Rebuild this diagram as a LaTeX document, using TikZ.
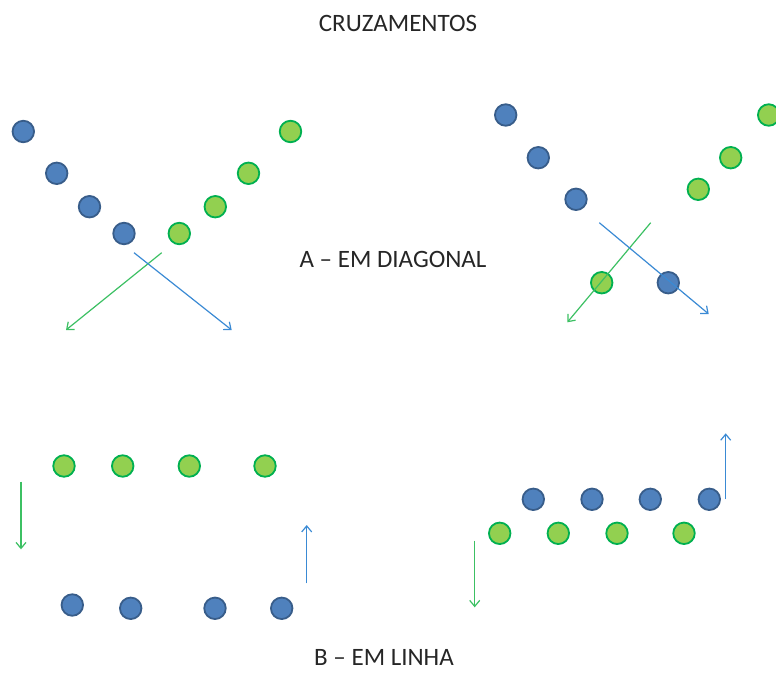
\documentclass[tikz,border=0pt]{standalone}
\usepackage{fontspec}
\setmainfont{Carlito}
\usetikzlibrary{arrows.meta}
\definecolor{bfill}{HTML}{4F81BD}
\definecolor{bdraw}{HTML}{385D8A}
\definecolor{gfill}{HTML}{92D050}
\definecolor{gdraw}{HTML}{00B050}
\definecolor{barrow}{HTML}{3A8AD4}
\definecolor{garrow}{HTML}{3CC063}
\tikzset{
  bdot/.style={circle,fill=bfill,draw=bdraw,line width=1.8pt,minimum size=21.5pt,inner sep=0pt},
  gdot/.style={circle,fill=gfill,draw=gdraw,line width=1.8pt,minimum size=21.5pt,inner sep=0pt},
  barr/.style={draw=barrow,line width=1.2pt,-{Straight Barb[length=6pt,width=10pt,line width=1.2pt]}},
  garr/.style={draw=garrow,line width=1.2pt,-{Straight Barb[length=6pt,width=10pt,line width=1.2pt]}},
  lbl/.style={font=\fontsize{25}{29}\selectfont,text=black!85,inner sep=0pt,text depth=0pt,anchor=base}
}
\begin{document}
\begin{tikzpicture}[x=1pt,y=-1pt]
\useasboundingbox (0,0) rectangle (776,673);
% titles
\node[lbl] (title) at (398,31) {CRUZAMENTOS};
\node[lbl] (la) at (393,267) {A – EM DIAGONAL};
\node[lbl] (lb) at (384,665) {B – EM LINHA};
% top-left
\node[bdot] (b1) at (23.3,131.5) {};
\node[bdot] (b2) at (56.7,173.3) {};
\node[bdot] (b3) at (89.5,206.7) {};
\node[bdot] (b4) at (124,233.5) {};
\node[gdot] (g1) at (290.5,131.5) {};
\node[gdot] (g2) at (248.5,173.3) {};
\node[gdot] (g3) at (215.3,206.7) {};
\node[gdot] (g4) at (179.3,233.5) {};
\coordinate (ga1) at (161.7,252.7);
\coordinate (ga2) at (66,330);
\coordinate (ba1) at (134,252.7);
\coordinate (ba2) at (231.7,330);
\draw[garr] (ga1) -- (ga2);
\draw[barr] (ba1) -- (ba2);
% top-right
\node[bdot] (rb1) at (505.7,115) {};
\node[bdot] (rb2) at (538.3,157.7) {};
\node[bdot] (rb3) at (576,199.3) {};
\node[bdot] (rb4) at (668.3,282.7) {};
\node[gdot] (rg1) at (768.7,115) {};
\node[gdot] (rg2) at (730.7,157.7) {};
\node[gdot] (rg3) at (698.3,189.3) {};
\node[gdot] (rg4) at (601.7,282.7) {};
\coordinate (rga1) at (650.7,222.7);
\coordinate (rga2) at (567.3,322.3);
\coordinate (rba1) at (599.3,222.7);
\coordinate (rba2) at (708.7,314);
\draw[garr] (rga1) -- (rga2);
\draw[barr] (rba1) -- (rba2);
% bottom-left
\node[gdot] (lg1) at (64,466) {};
\node[gdot] (lg2) at (122.7,466) {};
\node[gdot] (lg3) at (189.3,466) {};
\node[gdot] (lg4) at (265,466) {};
\node[bdot] (lb1) at (72.3,605) {};
\node[bdot] (lb2) at (130.7,608.3) {};
\node[bdot] (lb3) at (215,608.3) {};
\node[bdot] (lb4) at (281.7,608.3) {};
\coordinate (lga1) at (21,481.7);
\coordinate (lga2) at (21,549.3);
\coordinate (lba1) at (306.7,583.3);
\coordinate (lba2) at (306.7,525);
\draw[garr] (lga1) -- (lga2);
\draw[barr] (lba1) -- (lba2);
% bottom-right
\node[bdot] (mb1) at (533.3,499.3) {};
\node[bdot] (mb2) at (592,499.3) {};
\node[bdot] (mb3) at (650.3,499.3) {};
\node[bdot] (mb4) at (709.3,499.3) {};
\node[gdot] (mg1) at (499.7,533.3) {};
\node[gdot] (mg2) at (558.3,533.3) {};
\node[gdot] (mg3) at (617,533.3) {};
\node[gdot] (mg4) at (684,533.3) {};
\coordinate (mba1) at (725.7,499.3);
\coordinate (mba2) at (725.7,433.3);
\coordinate (mga1) at (474.7,540.7);
\coordinate (mga2) at (474.7,607.3);
\draw[barr] (mba1) -- (mba2);
\draw[garr] (mga1) -- (mga2);
\end{tikzpicture}
\end{document}
